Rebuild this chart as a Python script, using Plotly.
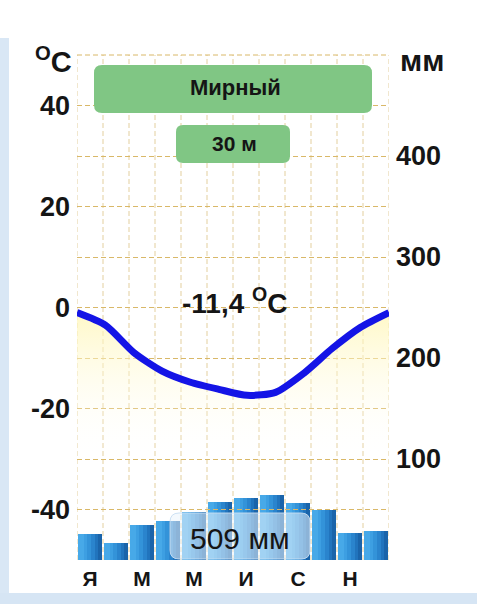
import plotly.graph_objects as go

# ---- data ----
months = ["Я", "Ф", "М", "А", "М", "И", "И", "А", "С", "О", "Н", "Д"]
month_idx = list(range(12))
tick_months = [0, 2, 4, 6, 8, 10]
tick_month_labels = ["Я", "М", "М", "И", "С", "Н"]
temp_c = [-1.0, -3.5, -8.9, -12.6, -14.8, -16.2, -17.4, -16.8, -13.0, -8.1, -3.9, -1.0]
precip_mm = [26, 17, 35, 39, 48, 57, 61, 64, 56, 50, 27, 29]
station = "Мирный"
elevation = "30 м"
mean_temp = "-11,4 <sup>O</sup>C"
total_precip = "509 мм"
temp_ticks = [-50, -40, -30, -20, -10, 0, 10, 20, 30, 40, 50]
temp_tick_text = ["", "-40", "", "-20", "", "0", "", "20", "", "40", ""]
precip_ticks = [100, 200, 300, 400]

W, H = 477, 604
L, R, T, B = 77, 389, 55, 560  # plot area in px


def px(x):
    return (x - L) / (R - L)


def py(y):
    return (B - y) / (B - T)


def rrect(x0, y0, x1, y1, r):
    rx = r / (R - L)
    ry = r / (B - T)
    X0, X1, Y0, Y1 = px(x0), px(x1), py(y1), py(y0)
    return (f"M {X0+rx},{Y0} L {X1-rx},{Y0} Q {X1},{Y0} {X1},{Y0+ry} "
            f"L {X1},{Y1-ry} Q {X1},{Y1} {X1-rx},{Y1} L {X0+rx},{Y1} "
            f"Q {X0},{Y1} {X0},{Y1-ry} L {X0},{Y0+ry} Q {X0},{Y0} {X0+rx},{Y0} Z")


grid_col = "#d9b868"
vgrid_col = "#e3cf9e"
grid_dash = "5px,3px"
font_fam = "Liberation Sans, Arial, sans-serif"

fig = go.Figure()

# precipitation bars: layered bands give a cylinder-like horizontal gradient
bar_layers = [(0.93, "#1a64aa"), (0.80, "#2174bd"), (0.66, "#2a84cd"),
              (0.52, "#3393d9"), (0.38, "#3d9fe2"), (0.24, "#47a9e8")]
for w, c in bar_layers:
    fig.add_trace(go.Bar(x=month_idx, y=precip_mm, yaxis="y2", width=w, offset=-0.48,
                         marker=dict(color=c, line=dict(width=0)), hoverinfo="skip"))

# base for the yellow fill
fig.add_trace(go.Scatter(x=month_idx, y=[-30] * 12, xaxis="x2", yaxis="y",
                         mode="lines", line=dict(width=0, color="rgba(0,0,0,0)"),
                         hoverinfo="skip", showlegend=False))
# temperature line
fig.add_trace(go.Scatter(x=month_idx, y=temp_c, xaxis="x2", yaxis="y",
                         mode="lines",
                         line=dict(color="#1414e6", width=7, shape="spline", smoothing=0.7),
                         fill="tonexty",
                         fillgradient=dict(type="vertical", start=-30, stop=0,
                                           colorscale=[[0, "rgba(255,255,255,0)"],
                                                       [1, "rgba(255,245,175,0.75)"]]),
                         hoverinfo="skip", showlegend=False))

shapes = [
    # light-blue page frame
    dict(type="rect", xref="paper", yref="paper", x0=px(0), x1=px(9), y0=py(604), y1=py(38),
         fillcolor="#d9e7f5", line=dict(width=0), layer="below"),
    dict(type="rect", xref="paper", yref="paper", x0=px(0), x1=px(477), y0=py(604), y1=py(593),
         fillcolor="#d6e5f4", line=dict(width=0), layer="below"),
]
# vertical month-boundary grid lines
for i in month_idx + [12]:
    shapes.append(dict(type="line", xref="x", yref="paper", x0=i - 0.5, x1=i - 0.5, y0=0, y1=1,
                       line=dict(color=vgrid_col, width=1, dash=grid_dash), layer="below"))
# top border line
shapes.append(dict(type="line", xref="paper", yref="paper", x0=0, x1=1, y0=1, y1=1,
                   line=dict(color=grid_col, width=1, dash=grid_dash), layer="below"))
shapes += [
    # station box
    dict(type="path", xref="paper", yref="paper", path=rrect(94, 65, 372, 113, 8),
         fillcolor="#80c684", line=dict(width=0), layer="above"),
    # elevation box
    dict(type="path", xref="paper", yref="paper", path=rrect(176, 125, 290, 163, 7),
         fillcolor="#80c684", line=dict(width=0), layer="above"),
    # precipitation total box
    dict(type="path", xref="paper", yref="paper", path=rrect(170, 513, 310, 559, 9),
         fillcolor="rgba(235,244,252,0.55)", line=dict(width=1, color="rgba(200,222,242,0.9)"),
         layer="above"),
]

ann = [
    dict(text=f"<b>{station}</b>", x=px(235), y=py(88), font=dict(size=22, color="#151515")),
    dict(text=f"<b>{elevation}</b>", x=px(234), y=py(143), font=dict(size=21, color="#151515")),
    dict(text=f"<b>{mean_temp}</b>", x=px(235), y=py(301), font=dict(size=28, color="#151515")),
    dict(text=total_precip, x=px(240), y=py(538), font=dict(size=30, color="#151515")),
    dict(text="<b><sup>O</sup>C</b>", x=px(53), y=py(60), font=dict(size=29, color="#151515")),
    dict(text="<b>мм</b>", x=px(422), y=py(60), font=dict(size=30, color="#151515")),
]
for a in ann:
    a.update(xref="paper", yref="paper", showarrow=False, xanchor="center", yanchor="middle",
             font=dict(family=font_fam, **a["font"]))

fig.update_layout(
    width=W, height=H,
    margin=dict(l=L, r=W - R, t=T, b=H - B),
    paper_bgcolor="white", plot_bgcolor="rgba(0,0,0,0)",
    showlegend=False, barmode="overlay", bargap=0,
    shapes=shapes, annotations=ann,
    xaxis=dict(range=[-0.5, 11.5], tickmode="array", tickvals=tick_months,
               ticktext=tick_month_labels, showgrid=False, zeroline=False, showline=False,
               ticks="", ticklabelstandoff=4,
               tickfont=dict(family=font_fam, size=21, color="#151515", weight="bold")),
    xaxis2=dict(range=[0, 11], overlaying="x", visible=False),
    yaxis=dict(range=[-50, 50], tickmode="array", tickvals=temp_ticks, ticktext=temp_tick_text,
               showgrid=True, gridcolor=grid_col, griddash=grid_dash, gridwidth=1,
               zeroline=False, showline=False, ticks="", ticklabelstandoff=6,
               tickfont=dict(family=font_fam, size=27, color="#151515", weight="bold")),
    yaxis2=dict(range=[0, 500], overlaying="y", side="right", tickmode="array",
                tickvals=precip_ticks, showgrid=False, zeroline=False, showline=False,
                ticks="", ticklabelstandoff=6,
                tickfont=dict(family=font_fam, size=27, color="#151515", weight="bold")),
)

fig.write_html("out.html", post_script="document.body.style.margin='0';",
               config={"displayModeBar": False})
